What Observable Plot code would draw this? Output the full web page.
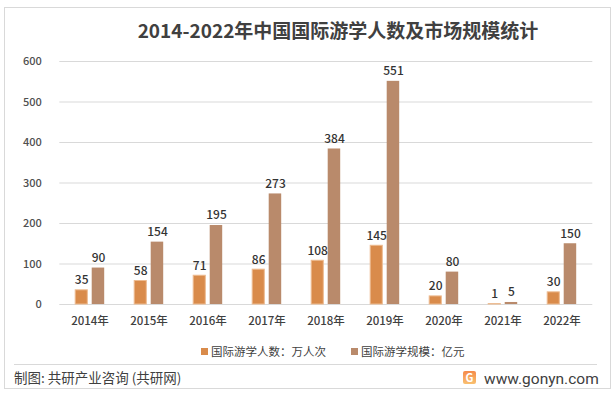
<!DOCTYPE html>
<html><head><meta charset="utf-8">
<script src="https://cdn.jsdelivr.net/npm/d3@7"></script>
<script src="https://cdn.jsdelivr.net/npm/@observablehq/plot@0.6"></script>
<style>
html,body{margin:0;padding:0;background:#fff;}
#chart{position:relative;width:615px;height:394px;}
svg{font-family:"Noto Sans CJK SC","Noto Sans",sans-serif;}
</style></head>
<body><div id="chart"></div>
<script>
const years = ["2014","2015","2016","2017","2018","2019","2020","2021","2022"];
const students = [35,58,71,86,108,145,20,1,30];
const market = [90,154,195,273,384,551,80,5,150];
const seriesNames = ["国际游学人数：万人次","国际游学规模：亿元"];
const colors = ["#D98B4B","#B98A6B"];
const yTicks = [0,100,200,300,400,500,600];

const dataA = years.map((y,i)=>({year:y, value:students[i]}));
const dataB = years.map((y,i)=>({year:y, value:market[i]}));

const plot = Plot.plot({
  width:615, height:394,
  marginTop:61, marginBottom:90, marginLeft:59.3, marginRight:22.7,
  style:{fontFamily:'"Noto Sans CJK SC","Noto Sans",sans-serif', fontSize:"11px", color:"#404040", background:"transparent"},
  x:{domain:years, padding:0},
  y:{domain:[0,600]},
  marks:[
    Plot.gridY(yTicks,{stroke:"#d9d9d9", strokeOpacity:1}),
    Plot.axisY({ticks:yTicks, tickSize:0, tickPadding:18, label:null, fill:"#505050", fontSize:11, fontWeight:500}),
    Plot.axisX({tickSize:0, tickPadding:12, label:null, tickFormat:d=>d+"年", fill:"#404040", fontSize:11.5, fontWeight:500}),
    Plot.barY(dataA,{x:"year", y:"value", fill:colors[0], stroke:"#EDBB90", strokeWidth:1, insetLeft:15.2, insetRight:31.7}),
    Plot.barY(dataB,{x:"year", y:"value", fill:colors[1], insetLeft:31.7, insetRight:14.8}),
    Plot.text(dataA,{x:"year", y:"value", text:"value", dx:-8.3, dy:-10, fill:"#333", fontSize:12, fontWeight:500}),
    Plot.text(dataB,{x:"year", y:"value", text:"value", dx:8.5, dy:-10, fill:"#333", fontSize:12, fontWeight:500})
  ]
});
document.getElementById("chart").appendChild(plot);

const svg = d3.select(plot);
svg.insert("rect",":first-child").attr("x",4.5).attr("y",7.5).attr("width",606).attr("height",381)
  .attr("fill","#fff").attr("stroke","#d9d9d9");
const extra = svg.append("g").attr("text-anchor","start");
extra.append("text").attr("x",338).attr("y",38).attr("text-anchor","middle")
  .attr("font-size",19).attr("font-weight","bold").attr("fill","#404040")
  .text("2014-2022年中国国际游学人数及市场规模统计");
// legend
const lx = [201,351];
seriesNames.forEach((s,i)=>{
  extra.append("rect").attr("x",lx[i]).attr("y",348).attr("width",7).attr("height",7).attr("fill",colors[i]);
  extra.append("text").attr("x",lx[i]+10).attr("y",356).attr("font-size",11.5).attr("fill","#404040").text(s);
});
extra.append("line").attr("x1",14).attr("x2",597).attr("y1",364.5).attr("y2",364.5).attr("stroke","#d9d9d9");
extra.append("text").attr("x",14).attr("y",383).attr("font-size",13.5).attr("fill","#404040").text("制图: 共研产业咨询 (共研网)");
const defs = svg.append("defs");
const g = defs.append("linearGradient").attr("id","lg").attr("x1",0).attr("y1",0).attr("x2",0).attr("y2",1);
g.append("stop").attr("offset","0%").attr("stop-color","#F58A4A");
g.append("stop").attr("offset","100%").attr("stop-color","#F9C070");
extra.append("rect").attr("x",463).attr("y",371).attr("width",13).attr("height",13).attr("rx",2).attr("fill","url(#lg)");
extra.append("text").attr("x",469.5).attr("y",382).attr("text-anchor","middle").attr("font-size",11).attr("font-weight","bold").attr("fill","#fff").text("G");
extra.append("text").attr("x",484).attr("y",384).attr("font-size",15.5).attr("fill","#404040").attr("font-family","Roboto,sans-serif").text("www.gonyn.com");
</script></body></html>
